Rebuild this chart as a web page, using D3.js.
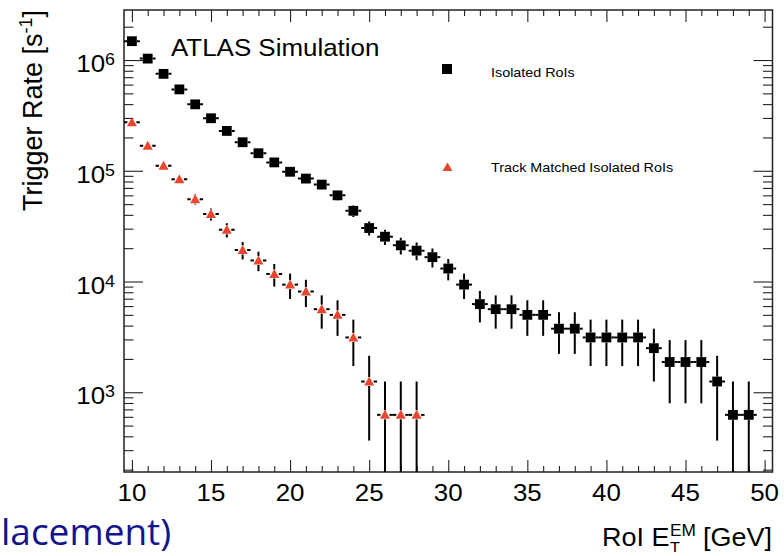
<!DOCTYPE html>
<html><head><meta charset="utf-8">
<script src="https://cdn.jsdelivr.net/npm/d3@7"></script>
<style>
html,body{margin:0;padding:0;background:#fff;overflow:hidden;}
svg{display:block;font-family:"Liberation Sans",Arial,Helvetica,sans-serif;}
</style></head>
<body>
<svg id="chart" width="784" height="556"></svg>
<script>
// ---- data ----
const isoBins = [10,11,12,13,14,15,16,17,18,19,20,21,22,23,24,25,26,27,28,29,30,31,32,33,34,35,36,37,38,39,40,41,42,43,44,45,46,47,48,49];
const isoRate = [1480000,1030000,750000,543000,398000,298000,229000,181000,144000,119000,98000,85000,75000,60000,43500,30400,25400,21200,19000,16600,13100,9375,6250,5625,5625,5000,5000,3750,3750,3125,3125,3125,3125,2500,1875,1875,1875,1250,625,625];
const isoErr  = [30400,25400,21650,18400,15800,13650,11950,10650,9500,8600,7800,7300,6850,6100,5200,4350,3980,3640,3450,3220,2860,2420,1980,1875,1875,1770,1770,1530,1530,1400,1400,1400,1400,1250,1080,1080,1080,884,625,625];

const trkBins = [10,11,12,13,14,15,16,17,18,19,20,21,22,23,24,25,26,27,28];
const trkRate = [274000,168000,111000,84000,55400,40600,29300,19300,15500,11700,9375,8125,5625,5000,3125,1250,625,625,625];
const trkErr  = [13100,10250,8330,7250,5880,5040,4280,3470,3110,2700,2420,2250,1875,1770,1400,884,625,625,625];

const xMajorTicks = [10,15,20,25,30,35,40,45,50];
const xMinorTicks = [11,12,13,14,16,17,18,19,21,22,23,24,26,27,28,29,31,32,33,34,36,37,38,39,41,42,43,44,46,47,48,49];
const yMajorTicks = [1e3,1e4,1e5,1e6];
const yMinorTicks = [200,300,400,500,600,700,800,900,2e3,3e3,4e3,5e3,6e3,7e3,8e3,9e3,2e4,3e4,4e4,5e4,6e4,7e4,8e4,9e4,2e5,3e5,4e5,5e5,6e5,7e5,8e5,9e5,2e6];
const yTickExp = ["3","4","5","6"];

const seriesNames = ["Isolated RoIs","Track Matched Isolated RoIs"];
const seriesColors = ["#000000","#e8452f"];

// ---- layout ----
const L = 124, R = 772.5, T = 10, B = 472;
const SX = 1.08;
const svg = d3.select("#chart");
const x = d3.scaleLinear().domain([9.5,50.5]).range([L,R]);
const y = d3.scaleLog().domain([190.5,2.83e6]).range([B,T]);

// axes ticks
function styleAxis(g){ g.select(".domain").remove(); g.selectAll(".tick line").attr("stroke","#222").attr("stroke-width",1.1); g.selectAll(".tick text").remove(); }
svg.append("g").attr("transform",`translate(0,${B})`).call(d3.axisBottom(x).tickValues(xMajorTicks).tickSize(-12).tickFormat("")).call(styleAxis);
svg.append("g").attr("transform",`translate(0,${B})`).call(d3.axisBottom(x).tickValues(xMinorTicks).tickSize(-6).tickFormat("")).call(styleAxis);
svg.append("g").attr("transform",`translate(0,${T})`).call(d3.axisTop(x).tickValues(xMajorTicks).tickSize(-12).tickFormat("")).call(styleAxis);
svg.append("g").attr("transform",`translate(0,${T})`).call(d3.axisTop(x).tickValues(xMinorTicks).tickSize(-6).tickFormat("")).call(styleAxis);
svg.append("g").attr("transform",`translate(${L},0)`).call(d3.axisLeft(y).tickValues(yMajorTicks).tickSize(-19).tickFormat("")).call(styleAxis);
svg.append("g").attr("transform",`translate(${L},0)`).call(d3.axisLeft(y).tickValues(yMinorTicks).tickSize(-9.5).tickFormat("")).call(styleAxis);
svg.append("g").attr("transform",`translate(${R},0)`).call(d3.axisRight(y).tickValues(yMajorTicks).tickSize(-19).tickFormat("")).call(styleAxis);
svg.append("g").attr("transform",`translate(${R},0)`).call(d3.axisRight(y).tickValues(yMinorTicks).tickSize(-9.5).tickFormat("")).call(styleAxis);

// frame
svg.append("rect").attr("x",L).attr("y",T).attr("width",R-L).attr("height",B-T)
  .attr("fill","none").attr("stroke","#222").attr("stroke-width",1.5);

// stretched text helper
function sText(px,py,anchor,size){
  const g = svg.append("g").attr("transform",`translate(${px},${py}) scale(${SX},1)`);
  return g.append("text").attr("x",0).attr("y",0).attr("text-anchor",anchor).attr("font-size",size).attr("fill","#000");
}

// x tick labels
xMajorTicks.forEach(v=>{ sText(x(v),501,"middle",24).text(v); });
// y tick labels
yMajorTicks.forEach((v,i)=>{
  const t = sText(115,y(v)+12,"end",24);
  t.append("tspan").text("10");
  t.append("tspan").attr("font-size",16.5).attr("dy",-7).text(yTickExp[i]);
});

// y title
const yt = svg.append("g").attr("transform",`translate(42,${T}) rotate(-90) scale(1,1.05)`)
  .append("text").attr("text-anchor","end").attr("font-size",27).attr("fill","#000");
yt.append("tspan").text("Trigger Rate [s");
yt.append("tspan").attr("font-size",18).attr("dy",-9.5).text("-1");
yt.append("tspan").attr("dy",9.5).text("]");

// x title (right-aligned to frame)
{
  const g = svg.append("g");
  const t1 = g.append("text").attr("font-size",25).text("RoI E");
  const w1 = t1.node().getComputedTextLength();
  const sup = g.append("text").attr("x",w1+0.5).attr("y",-10.5).attr("font-size",16).text("EM");
  g.append("text").attr("x",w1+0.5).attr("y",6.3).attr("font-size",15).text("T");
  const ws = sup.node().getComputedTextLength();
  const t3 = g.append("text").attr("x",w1+ws+7).attr("font-size",25).text("[GeV]");
  const total = w1+ws+7+t3.node().getComputedTextLength();
  g.attr("transform",`translate(${772-total*SX},546) scale(${SX},1)`);
}

// ATLAS label
sText(171,56,"start",24).text("ATLAS Simulation");

// legend
svg.append("rect").attr("x",442).attr("y",64).attr("width",10).attr("height",10).attr("fill",seriesColors[0]);
sText(491,76.5,"start",13.3).text(seriesNames[0]);
svg.append("path").attr("d",`M${442.5},${171} L${452.5},${171} L${447.5},${162.5} Z`).attr("fill",seriesColors[1]);
sText(491,172,"start",13.3).text(seriesNames[1]);

// clip
svg.append("clipPath").attr("id","pc").append("rect").attr("x",L).attr("y",T).attr("width",R-L).attr("height",B-T);
const plot = svg.append("g").attr("clip-path","url(#pc)");

function drawSeries(bins, rates, errs, color, half, marker){
  const gE = plot.append("g").attr("stroke","#000").attr("stroke-width",2);
  bins.forEach((b,i)=>{
    const cx = x(b), cy = y(rates[i]);
    const lo = Math.max(rates[i]-errs[i], 150);
    const top = y(rates[i]+errs[i]), bot = Math.min(y(lo), B+5);
    const xl = x(b-0.5), xr = x(b+0.5);
    if (cx-half > xl) gE.append("line").attr("x1",xl).attr("x2",cx-half).attr("y1",cy).attr("y2",cy);
    if (cx+half < xr) gE.append("line").attr("x1",cx+half).attr("x2",xr).attr("y1",cy).attr("y2",cy);
    if (top < cy-half) gE.append("line").attr("x1",cx).attr("x2",cx).attr("y1",top).attr("y2",cy-half);
    if (bot > cy+half) gE.append("line").attr("x1",cx).attr("x2",cx).attr("y1",cy+half).attr("y2",bot);
  });
  const gM = plot.append("g").attr("fill",color);
  bins.forEach((b,i)=>{
    const cx = x(b), cy = y(rates[i]);
    if (marker==="square") gM.append("rect").attr("x",cx-4.9).attr("y",cy-4.9).attr("width",9.8).attr("height",9.8);
    else gM.append("path").attr("d",`M${cx-5},${cy+4} L${cx+5},${cy+4} L${cx},${cy-5} Z`);
  });
}
drawSeries(isoBins, isoRate, isoErr, seriesColors[0], 4.9, "square");
drawSeries(trkBins, trkRate, trkErr, seriesColors[1], 4.5, "triangle");

// slide text fragment at bottom-left
svg.append("text").attr("x",1).attr("y",545).attr("font-family","'Open Sans','Noto Sans',sans-serif")
  .attr("font-size",37).attr("fill","#14148c").text("lacement)");
</script>
</body></html>
